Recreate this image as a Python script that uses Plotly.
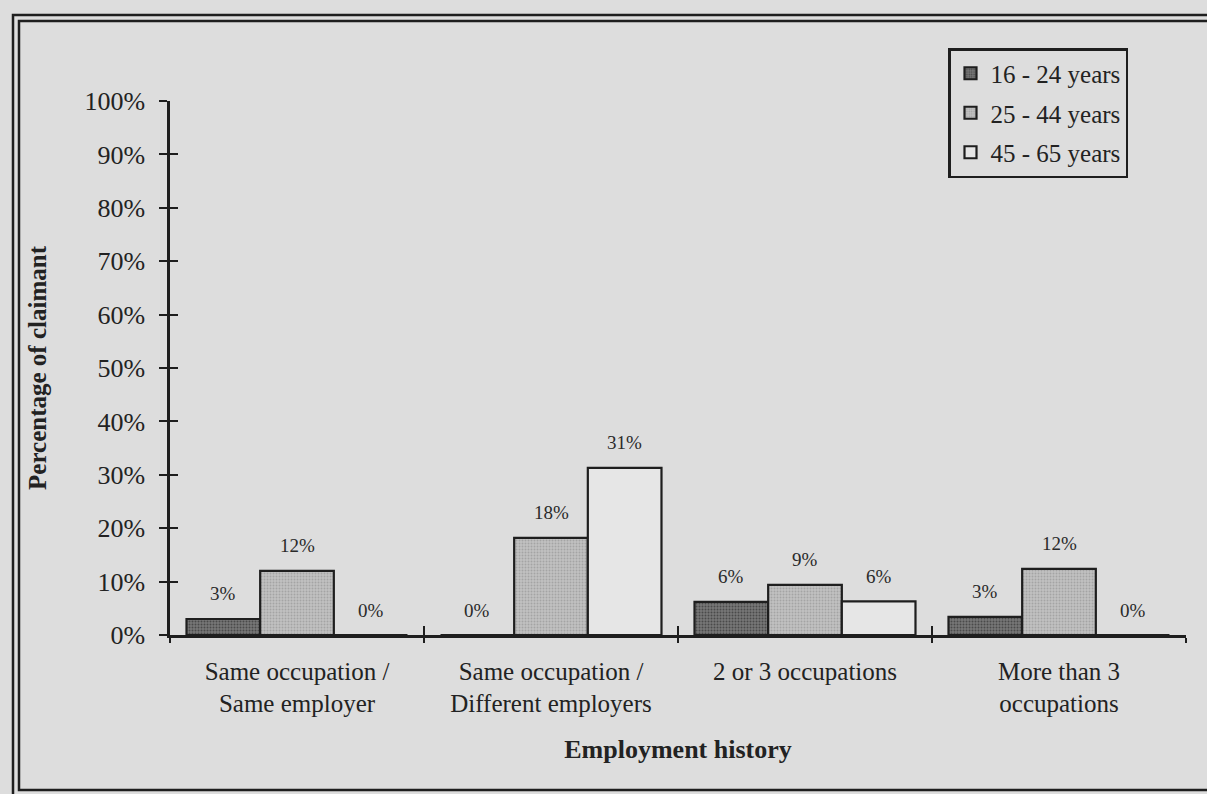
import plotly.graph_objects as go

categories = ["Same occupation /<br>Same employer",
              "Same occupation /<br>Different employers",
              "2 or 3 occupations",
              "More than 3<br>occupations"]
series_names = ["16 - 24 years", "25 - 44 years", "45 - 65 years"]
age_16_24 = [3.0, 0.0, 6.2, 3.4]
age_25_44 = [12.0, 18.2, 9.4, 12.4]
age_45_65 = [0.0, 31.3, 6.3, 0.0]
y_ticks = [0, 10, 20, 30, 40, 50, 60, 70, 80, 90, 100]
y_tick_labels = [f"{v}%" for v in y_ticks]

fills = ["#777777", "#c2c2c2", "#e6e6e6"]
dots = ["#4a4a4a", "#a4a4a4", "#e6e6e6"]
edge = "#1e1e1e"
bg = "#dddddd"
FONT = "Liberation Serif"

# layout geometry (pixels)
W, H = 1207, 794
L, R = 170, 1186
T, B = 101, 635
bargap = 0.13

def px_x(px):
    return (px - L) / (R - L)

def px_y(py):
    return (B - py) / (B - T)

fig = go.Figure()
series = [age_16_24, age_25_44, age_45_65]
for i, (name, vals) in enumerate(zip(series_names, series)):
    pattern = dict(shape=".", fgcolor=dots[i], bgcolor=fills[i], size=3,
                   solidity=0.35, fillmode="replace") if i < 2 else None
    fig.add_trace(go.Bar(
        x=categories, y=vals, name=name,
        marker=dict(color=fills[i], line=dict(color=edge, width=2.2),
                    pattern=pattern),
        legendgroup=name,
    ))

# value labels above bars
cat_w = (R - L) / len(categories)
bar_w = cat_w * (1 - bargap) / 3
for si, vals in enumerate(series):
    for ci, v in enumerate(vals):
        fig.add_annotation(
            x=categories[ci], y=v, xref="x", yref="y",
            text=f"{round(v):.0f}%", showarrow=False,
            xshift=(si - 1) * bar_w, yshift=25,
            font=dict(family=FONT, size=19, color="#2a2a2a"),
        )

# invisible trace for overlay axes (crossing ticks)
fig.add_trace(go.Scatter(x=[-0.5, 3.5], y=[0, 100], xaxis="x2", yaxis="y2",
                         mode="markers", marker=dict(opacity=0),
                         showlegend=False, hoverinfo="skip"))

fig.update_layout(
    width=W, height=H,
    margin=dict(l=L, r=W - R, t=T, b=H - B, pad=0),
    paper_bgcolor=bg, plot_bgcolor=bg,
    barmode="group", bargap=bargap, bargroupgap=0,
    font=dict(family=FONT, color="#222"),
    showlegend=True,
    legend=dict(
        x=px_x(948), y=px_y(48), xanchor="left", yanchor="top",
        bgcolor=bg, bordercolor=edge, borderwidth=2.5,
        font=dict(family=FONT, size=25, color="#222"),
        traceorder="grouped", tracegroupgap=4,
        itemwidth=30,
    ),
    xaxis=dict(
        type="category", tickson="boundaries",
        ticks="outside", ticklen=5, tickwidth=2, tickcolor=edge,
        showline=True, linecolor=edge, linewidth=2.5,
        showgrid=False, zeroline=False,
        tickfont=dict(family=FONT, size=25, color="#222"),
        ticklabelstandoff=12,
        title=dict(text="<b>Employment history</b>",
                   font=dict(family=FONT, size=26, color="#222"), standoff=24),
        range=[-0.5, 3.5],
    ),
    yaxis=dict(
        range=[0, 100], tickvals=y_ticks, ticktext=y_tick_labels,
        ticks="outside", ticklen=8, tickwidth=2, tickcolor=edge,
        showline=True, linecolor=edge, linewidth=2.5,
        showgrid=False, zeroline=False,
        tickfont=dict(family=FONT, size=26, color="#222"),
        ticklabelstandoff=9,
        title=dict(text="<b>Percentage of claimant</b>",
                   font=dict(family=FONT, size=25, color="#222"), standoff=31),
    ),
    xaxis2=dict(
        overlaying="x", anchor="y2", range=[-0.5, 3.5],
        tickvals=[-0.5, 0.5, 1.5, 2.5, 3.5], ticks="inside", ticklen=9,
        tickwidth=2, tickcolor=edge, showticklabels=False,
        showline=False, showgrid=False, zeroline=False, side="bottom",
    ),
    yaxis2=dict(
        overlaying="y", anchor="x2", range=[0, 100], tickvals=y_ticks,
        ticks="inside", ticklen=8, tickwidth=2, tickcolor=edge,
        showticklabels=False, showline=False, showgrid=False, zeroline=False,
        side="left",
    ),
)

# double frame around the chart
for (x0, y0, x1, y1) in [(13, 15, 1240, 800), (19, 21, 1240, 790)]:
    fig.add_shape(type="rect", xref="paper", yref="paper",
                  x0=px_x(x0), x1=px_x(x1), y0=px_y(y1), y1=px_y(y0),
                  line=dict(color=edge, width=2.5), layer="below")

fig.write_html("out.html")
